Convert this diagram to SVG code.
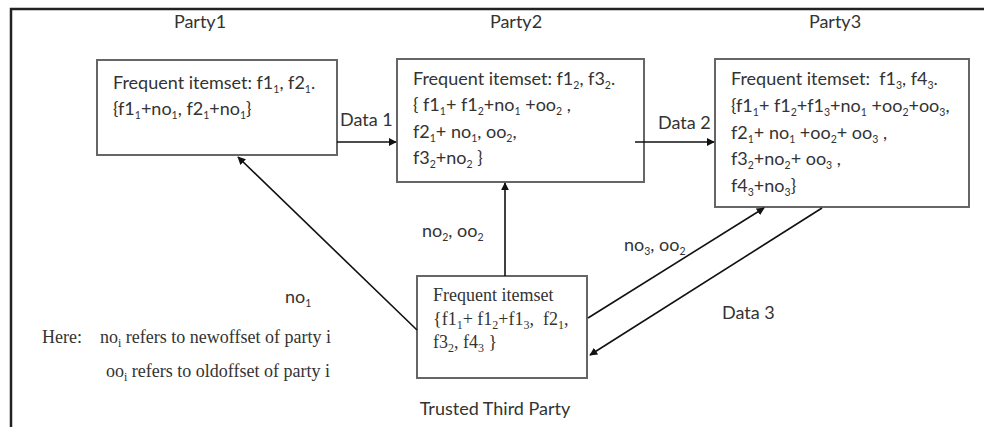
<svg xmlns="http://www.w3.org/2000/svg" width="984" height="427" viewBox="0 0 984 427">
<style>
.c{font-family:Lato,"Open Sans","Liberation Sans",sans-serif;font-size:18px;fill:#333}
.t{font-family:"Liberation Serif","Times New Roman",serif;font-size:18px;fill:#333}
.s{font-size:10.5px;baseline-shift:-4px}
.t .s{font-size:12px}
.box{fill:#fff;stroke:#666;stroke-width:2}
.ln{stroke:#111;stroke-width:1.6;fill:none;marker-end:url(#ah)}
</style>
<defs>
<marker id="ah" viewBox="0 0 10 10" refX="9" refY="5" markerWidth="8" markerHeight="8" markerUnits="userSpaceOnUse" orient="auto">
<path d="M0,0 L10,5 L0,10 z" fill="#111"/>
</marker>
</defs>
<rect width="984" height="427" fill="#fff"/>
<path d="M11,427 V9 H984" fill="none" stroke="#222" stroke-width="2.5"/>
<g id="labels">
<text class="c" x="200" y="28" text-anchor="middle">Party1</text>
<text class="c" x="516" y="28" text-anchor="middle">Party2</text>
<text class="c" x="835" y="28" text-anchor="middle">Party3</text>
<text class="c" x="495" y="415" text-anchor="middle">Trusted Third Party</text>
</g>
<g id="party1">
<rect class="box" x="97" y="60" width="240" height="95"/>
<text class="c" x="113" y="89">Frequent itemset: f1<tspan class="s">1</tspan>, f2<tspan class="s">1</tspan>.</text>
<text class="c" x="113" y="115">{f1<tspan class="s">1</tspan>+no<tspan class="s">1</tspan>, f2<tspan class="s">1</tspan>+no<tspan class="s">1</tspan>}</text>
</g>
<g id="party2">
<rect class="box" x="397" y="59" width="247" height="123"/>
<text class="c" x="413" y="85">Frequent itemset: f1<tspan class="s">2</tspan>, f3<tspan class="s">2</tspan>.</text>
<text class="c" x="413" y="111">{ f1<tspan class="s">1</tspan>+ f1<tspan class="s">2</tspan>+no<tspan class="s">1</tspan> +oo<tspan class="s">2</tspan> ,</text>
<text class="c" x="413" y="138">f2<tspan class="s">1</tspan>+ no<tspan class="s">1</tspan>, oo<tspan class="s">2</tspan>,</text>
<text class="c" x="413" y="164">f3<tspan class="s">2</tspan>+no<tspan class="s">2</tspan> }</text>
</g>
<g id="party3">
<rect class="box" x="715" y="59" width="254" height="148"/>
<text class="c" x="731" y="85">Frequent itemset:&#160; f1<tspan class="s">3</tspan>, f4<tspan class="s">3</tspan>.</text>
<text class="c" x="731" y="112">{f1<tspan class="s">1</tspan>+ f1<tspan class="s">2</tspan>+f1<tspan class="s">3</tspan>+no<tspan class="s">1</tspan> +oo<tspan class="s">2</tspan>+oo<tspan class="s">3</tspan>,</text>
<text class="c" x="731" y="139">f2<tspan class="s">1</tspan>+ no<tspan class="s">1</tspan> +oo<tspan class="s">2</tspan>+ oo<tspan class="s">3</tspan> ,</text>
<text class="c" x="731" y="165">f3<tspan class="s">2</tspan>+no<tspan class="s">2</tspan>+ oo<tspan class="s">3</tspan> ,</text>
<text class="c" x="731" y="192">f4<tspan class="s">3</tspan>+no<tspan class="s">3</tspan>}</text>
</g>
<g id="ttp">
<rect class="box" x="417" y="276" width="170" height="102"/>
<text class="t" x="433" y="301">Frequent itemset</text>
<text class="t" x="433" y="325">{f1<tspan class="s">1</tspan>+ f1<tspan class="s">2</tspan>+f1<tspan class="s">3</tspan>,&#160; f2<tspan class="s">1</tspan>,</text>
<text class="t" x="433" y="348">f3<tspan class="s">2</tspan>, f4<tspan class="s">3</tspan> }</text>
</g>
<g id="connectors">
<line class="ln" x1="337" y1="142" x2="396" y2="142"/>
<line class="ln" x1="635" y1="142" x2="714" y2="142"/>
<line class="ln" x1="505" y1="276" x2="505" y2="183"/>
<line class="ln" x1="417" y1="330" x2="238" y2="157"/>
<line class="ln" x1="588" y1="318" x2="764" y2="208"/>
<line class="ln" x1="822" y1="208" x2="590" y2="355"/>
</g>
<g id="edge-labels">
<text class="c" x="340" y="126">Data 1</text>
<text class="c" x="658" y="129">Data 2</text>
<text class="c" x="722" y="319">Data 3</text>
<text class="c" x="422" y="237">no<tspan class="s">2</tspan>, oo<tspan class="s">2</tspan></text>
<text class="c" x="624" y="251">no<tspan class="s">3</tspan>, oo<tspan class="s">2</tspan></text>
<text class="c" x="285" y="303">no<tspan class="s">1</tspan></text>
</g>
<g id="legend">
<text class="t" x="42" y="343">Here:</text>
<text class="t" x="100" y="343">no<tspan class="s">i</tspan> refers to newoffset of party i</text>
<text class="t" x="106" y="377">oo<tspan class="s">i</tspan> refers to oldoffset of party i</text>
</g>
</svg>
